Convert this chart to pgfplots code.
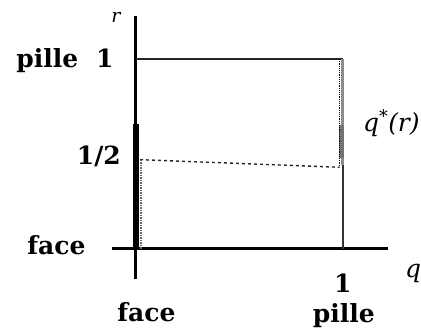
\documentclass[border=0pt]{standalone}
\usepackage{fontspec}
\setmainfont{DejaVu Serif}
\usepackage{pgfplots}
\pgfplotsset{compat=1.18}
\begin{document}
\begin{tikzpicture}
\begin{axis}[
  x=207pt, y=190pt,
  xmin=-0.116, xmax=1.217, ymin=-0.158, ymax=1.226,
  hide axis, clip=false,
]
% bounding box to match reference proportions
\path (axis cs:-0.657,-0.442) rectangle (axis cs:1.377,1.311);
% axes
\addplot[black, line width=3pt] coordinates {(-0.116,0) (1.217,0)};
\addplot[black, line width=3pt] coordinates {(0,-0.158) (0,1.226)};
% thick segment on r axis
\addplot[black, line width=5.5pt] coordinates {(0,0) (0,0.66)};
% top line
\addplot[black!85, line width=1.5pt] coordinates {(0,1) (1,1)};
% vertical at q=1
\addplot[black!45, line width=3pt] coordinates {(1,1) (1,0.44)};
\addplot[black!80, line width=1.5pt] coordinates {(1,0.44) (1,0)};
\addplot[black!55, line width=4.5pt] coordinates {(0.995,0.48) (0.995,0.65)};
\addplot[black, line width=1.2pt, densely dotted] coordinates {(0.985,1) (0.985,0.44)};
% dashed horizontal
\addplot[black!85, line width=1.4pt, dashed] coordinates {(0.02,0.47) (0.985,0.43)};
% dotted vertical near r axis
\addplot[black!60, line width=1.5pt, densely dotted] coordinates {(0.025,0.47) (0.025,0)};
% labels
\tikzset{lab/.style={font=\bfseries\fontsize{25}{25}\selectfont, anchor=base, inner sep=0pt}}
\node[font=\itshape\fontsize{19}{19}\selectfont, anchor=base, inner sep=0pt] at (axis cs:-0.097,1.19) {r};
\node[lab] at (axis cs:-0.428,0.953) {pille};
\node[lab] at (axis cs:-0.15,0.953) {1};
\node[lab] at (axis cs:-0.179,0.442) {1/2};
\node[lab] at (axis cs:-0.384,-0.03) {face};
\node[lab] at (axis cs:1,-0.23) {1};
\node[lab] at (axis cs:0.051,-0.384) {face};
\node[lab] at (axis cs:1.005,-0.39) {pille};
\node[font=\itshape\fontsize{25}{25}\selectfont, anchor=base west, inner sep=0pt] at (axis cs:1.097,0.616) {q\textsuperscript{*}(r)};
\node[font=\itshape\fontsize{25}{25}\selectfont, anchor=base west, inner sep=0pt] at (axis cs:1.30,-0.153) {q};
\end{axis}
\end{tikzpicture}
\end{document}
